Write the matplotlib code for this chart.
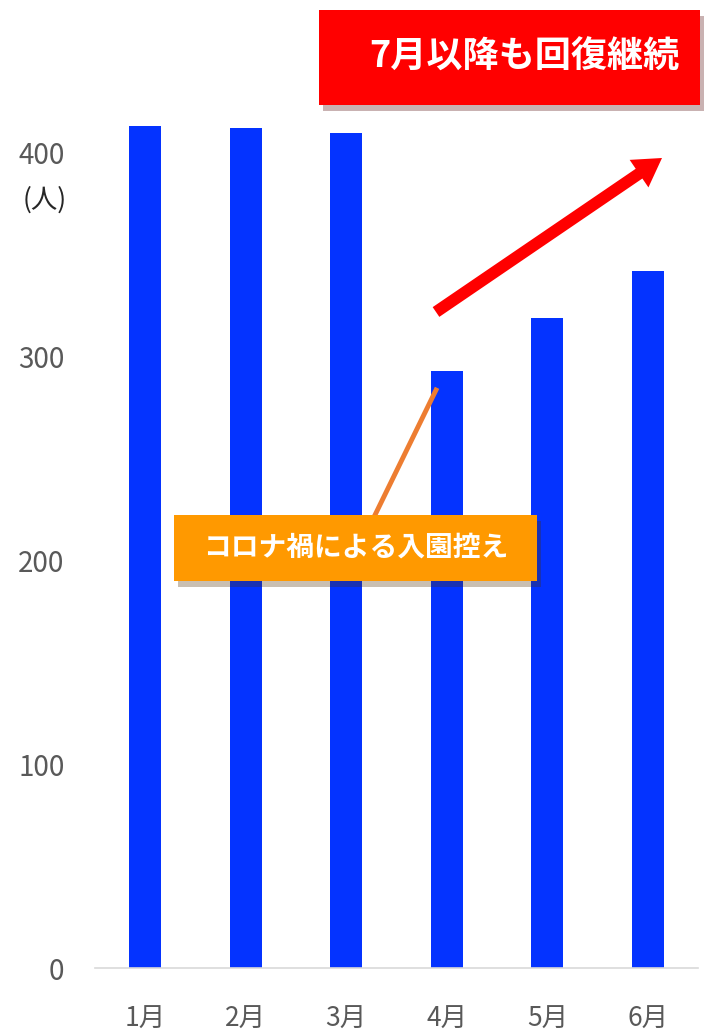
import matplotlib.pyplot as plt
from matplotlib.patches import FancyBboxPatch
import matplotlib.patheffects as pe

plt.rcParams['font.family'] = ['Noto Sans CJK JP', 'DejaVu Sans']

months = ['1月', '2月', '3月', '4月', '5月', '6月']
visitors = [413, 412, 410, 293, 319, 342]
yticks = [0, 100, 200, 300, 400]

fig = plt.figure(figsize=(7.09, 10.32), dpi=100)
ax = fig.add_axes([95 / 709, 64 / 1032, 603 / 709, 917 / 1032])

x = range(len(months))
ax.bar(x, visitors, width=0.32, color='#0433FF', zorder=2)
ax.set_xlim(-0.5, 5.5)
ax.set_ylim(0, 450)
ax.set_yticks(yticks)
ax.set_xticks(list(x))
ax.set_xticklabels(months)
ax.tick_params(axis='both', length=0, colors='#595959')
ax.tick_params(axis='x', pad=27, labelsize=19)
ax.tick_params(axis='y', pad=22, labelsize=20)
for s in ['top', 'right', 'left']:
    ax.spines[s].set_visible(False)
ax.spines['bottom'].set_color('#D9D9D9')
ax.spines['bottom'].set_linewidth(1.2)

# unit label
fig.text(45 / 709, 1 - 200 / 1032, '(人)', ha='center', va='center',
         fontsize=19, color='#262626')

# annotation line (orange)
fig.add_artist(plt.Line2D([375 / 709, 436 / 709], [1 - 515 / 1032, 1 - 390 / 1032],
                          color='#ED7D31', lw=3.5, zorder=3))

shadow = [pe.SimplePatchShadow(offset=(3, -4), alpha=0.3), pe.Normal()]

# orange box
ob = FancyBboxPatch((174 / 709, 1 - 581 / 1032), 363 / 709, 66 / 1032,
                    boxstyle='square,pad=0', transform=fig.transFigure,
                    facecolor='#FF9900', edgecolor='none', zorder=4,
                    path_effects=shadow)
fig.add_artist(ob)
fig.text(356 / 709, 1 - 548 / 1032, 'コロナ禍による入園控え', ha='center', va='center',
         fontsize=20, color='white', fontweight='bold', zorder=5)

# red box
rb = FancyBboxPatch((319 / 709, 1 - 105 / 1032), 381 / 709, 95 / 1032,
                    boxstyle='square,pad=0', transform=fig.transFigure,
                    facecolor='#FF0000', edgecolor='none', zorder=4,
                    path_effects=shadow)
fig.add_artist(rb)
fig.text(524 / 709, 1 - 57 / 1032, '7月以降も回復継続', ha='center', va='center',
         fontsize=26, color='white', fontweight='bold', zorder=5)

# red arrow
ax2 = fig.add_axes([0, 0, 1, 1], facecolor='none')
ax2.set_xlim(0, 709)
ax2.set_ylim(1032, 0)
ax2.axis('off')
ax2.annotate('', xy=(662, 158), xytext=(436, 312),
             arrowprops=dict(arrowstyle='simple,head_length=2.0,head_width=2.4,tail_width=0.85',
                             color='#FF0000', lw=0, shrinkA=0, shrinkB=0))

fig.savefig('out.png', dpi=100)
